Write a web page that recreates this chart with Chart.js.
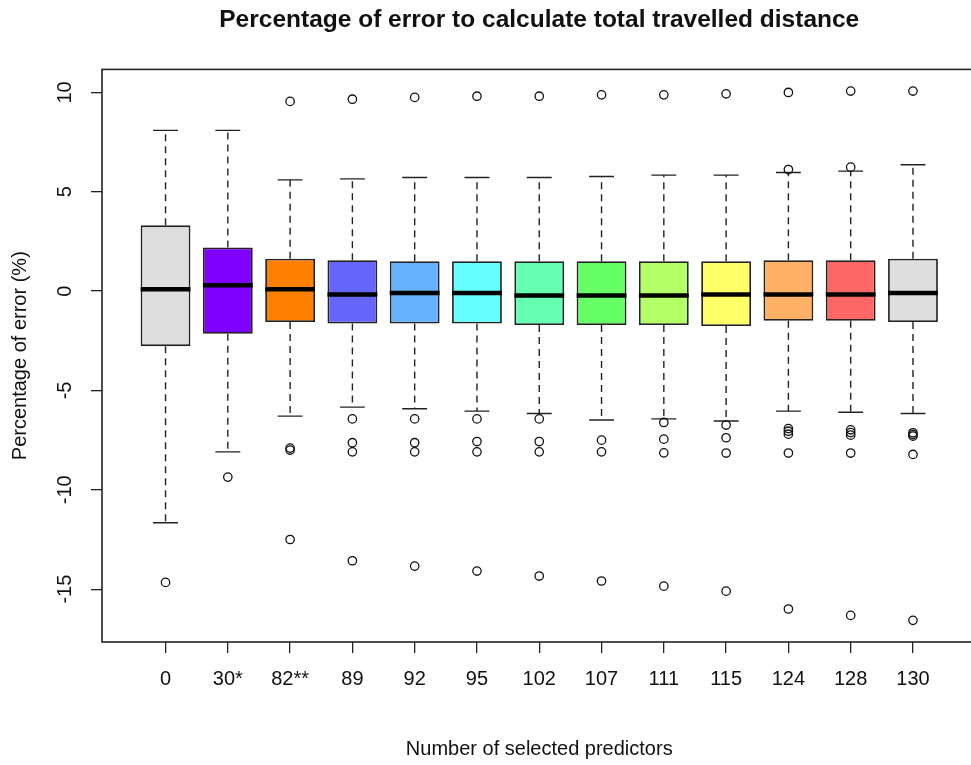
<!DOCTYPE html>
<html>
<head>
<meta charset="utf-8">
<script src="https://cdn.jsdelivr.net/npm/chart.js@4.4.1/dist/chart.umd.min.js"></script>
<style>
  html, body { margin: 0; padding: 0; background: #fff; overflow: hidden; }
  #wrap { width: 971px; height: 765px; overflow: hidden; }
  canvas { display: block; }
</style>
</head>
<body>
<div id="wrap"><canvas id="boxChart" width="982" height="765" style="width:982px;height:765px"></canvas></div>
<script>
// number of selected predictors (x categories)
const predictors = ['0', '30*', '82**', '89', '92', '95', '102', '107', '111', '115', '124', '128', '130'];

// five-number summaries (% error)
const lowerWhisker = [-11.66, -8.09, -6.29, -5.84, -5.92, -6.04, -6.16, -6.49, -6.43, -6.54, -6.04, -6.10, -6.16];
const q1 = [-2.77, -2.15, -1.56, -1.63, -1.63, -1.63, -1.71, -1.71, -1.71, -1.76, -1.49, -1.49, -1.56];
const median = [0.10, 0.29, 0.10, -0.17, -0.10, -0.10, -0.22, -0.22, -0.22, -0.17, -0.17, -0.17, -0.10];
const q3 = [3.31, 2.20, 1.63, 1.56, 1.51, 1.51, 1.51, 1.51, 1.51, 1.51, 1.56, 1.56, 1.63];
const upperWhisker = [8.09, 8.09, 5.60, 5.65, 5.72, 5.72, 5.72, 5.77, 5.84, 5.84, 5.97, 6.04, 6.36];

const outliers = [
  [-14.66],
  [-9.36],
  [9.55, -7.90, -8.00, -12.50],
  [9.66, -6.43, -7.63, -8.09, -13.57],
  [9.75, -6.43, -7.63, -8.09, -13.84],
  [9.81, -6.43, -7.57, -8.09, -14.09],
  [9.81, -6.43, -7.57, -8.09, -14.34],
  [9.88, -7.50, -8.09, -14.59],
  [9.88, -6.61, -7.45, -8.14, -14.85],
  [9.93, -6.74, -7.38, -8.15, -15.10],
  [10.00, 6.12, -6.92, -7.05, -7.20, -8.15, -16.00],
  [10.07, 6.24, -6.98, -7.12, -7.25, -8.15, -16.32],
  [10.07, -7.13, -7.22, -7.30, -8.22, -16.57]
];

const boxColors = ['#dedede', '#8000ff', '#ff8000', '#6666ff', '#66b2ff', '#66ffff', '#66ffb2',
                   '#66ff66', '#b2ff66', '#ffff66', '#ffb266', '#ff6666', '#dedede'];

const yTicks = [-15, -10, -5, 0, 5, 10];

const fontFamily = '"Liberation Sans", Arial, sans-serif';
const ink = '#111';

// whiskers (dashed + staples) behind the boxes, medians on top, frame round the plot
const boxExtras = {
  id: 'boxExtras',
  beforeDatasetsDraw(chart) {
    const { ctx, scales: { x, y } } = chart;
    ctx.save();
    ctx.strokeStyle = '#222';
    ctx.lineWidth = 1.4;
    predictors.forEach((_, i) => {
      const cx = x.getPixelForValue(i + 1);
      const sl = x.getPixelForValue(i + 0.8);
      const sr = x.getPixelForValue(i + 1.2);
      ctx.setLineDash([7, 5]);
      ctx.beginPath();
      ctx.moveTo(cx, y.getPixelForValue(q3[i]));
      ctx.lineTo(cx, y.getPixelForValue(upperWhisker[i]));
      ctx.moveTo(cx, y.getPixelForValue(q1[i]));
      ctx.lineTo(cx, y.getPixelForValue(lowerWhisker[i]));
      ctx.stroke();
      ctx.setLineDash([]);
      ctx.beginPath();
      const yu = y.getPixelForValue(upperWhisker[i]);
      const yl = y.getPixelForValue(lowerWhisker[i]);
      ctx.moveTo(sl, yu); ctx.lineTo(sr, yu);
      ctx.moveTo(sl, yl); ctx.lineTo(sr, yl);
      ctx.stroke();
    });
    ctx.restore();
  },
  afterDatasetsDraw(chart) {
    const { ctx, scales: { x, y } } = chart;
    ctx.save();
    ctx.strokeStyle = '#000';
    ctx.lineWidth = 4.5;
    predictors.forEach((_, i) => {
      const ym = y.getPixelForValue(median[i]);
      ctx.beginPath();
      ctx.moveTo(x.getPixelForValue(i + 0.6), ym);
      ctx.lineTo(x.getPixelForValue(i + 1.4), ym);
      ctx.stroke();
    });
    const a = chart.chartArea;
    ctx.strokeStyle = '#222';
    ctx.lineWidth = 1.6;
    ctx.strokeRect(a.left, a.top, a.right - a.left, a.bottom - a.top);
    ctx.restore();
  }
};

const outlierPoints = [];
outliers.forEach((vals, i) => vals.forEach(v => outlierPoints.push({ x: i + 1, y: v })));

const ctx = document.getElementById('boxChart').getContext('2d');
new Chart(ctx, {
  type: 'bar',
  data: {
    datasets: [
      {
        type: 'scatter',
        label: 'outliers',
        data: outlierPoints,
        pointStyle: 'circle',
        pointRadius: 4.2,
        pointBackgroundColor: 'rgba(255,255,255,0)',
        pointBorderColor: '#111',
        pointBorderWidth: 1.3,
        order: 0
      },
      {
        label: 'boxes',
        data: predictors.map((_, i) => ({ x: i + 1, y: [q1[i], q3[i]] })),
        backgroundColor: boxColors,
        borderColor: '#222',
        borderWidth: 1.8,
        borderSkipped: false,
        categoryPercentage: 1,
        barPercentage: 0.8,
        order: 1
      }
    ]
  },
  options: {
    responsive: false,
    animation: false,
    events: [],
    layout: { padding: { left: 0, right: 1, top: 0, bottom: 0 } },
    plugins: {
      legend: { display: false },
      tooltip: { enabled: false },
      title: {
        display: true,
        fullSize: false,
        text: 'Percentage of error to calculate total travelled distance',
        color: ink,
        font: { family: fontFamily, size: 24.5, weight: 'bold' },
        padding: { top: 6, bottom: 34 }
      }
    },
    scales: {
      x: {
        type: 'linear',
        offset: false,
        min: -0.02,
        max: 14.02,
        afterBuildTicks: s => { s.ticks = predictors.map((_, i) => ({ value: i + 1 })); },
        afterFit: s => { s.height = 123; },
        ticks: {
          callback: (v, idx) => predictors[idx],
          autoSkip: false,
          maxRotation: 0,
          color: ink,
          padding: 14,
          font: { family: fontFamily, size: 20 }
        },
        grid: { offset: false, drawOnChartArea: false, drawTicks: true, tickLength: 11, color: '#222', lineWidth: 1.3 },
        border: { display: false },
        title: {
          display: true,
          text: 'Number of selected predictors',
          color: ink,
          font: { family: fontFamily, size: 20 },
          padding: { top: 0, bottom: 4 }
        }
      },
      y: {
        type: 'linear',
        min: -17.66,
        max: 11.16,
        afterBuildTicks: s => { s.ticks = yTicks.map(v => ({ value: v })); },
        afterFit: s => { s.width = 102; },
        ticks: {
          autoSkip: false,
          minRotation: 90,
          maxRotation: 90,
          crossAlign: 'center',
          color: ink,
          padding: 11,
          font: { family: fontFamily, size: 20 }
        },
        grid: { drawOnChartArea: false, drawTicks: true, tickLength: 11, color: '#222', lineWidth: 1.3 },
        border: { display: false },
        title: {
          display: true,
          text: 'Percentage of error (%)',
          color: ink,
          font: { family: fontFamily, size: 20 },
          padding: { top: 8, bottom: 0 }
        }
      }
    }
  },
  plugins: [boxExtras]
});
</script>
</body>
</html>
